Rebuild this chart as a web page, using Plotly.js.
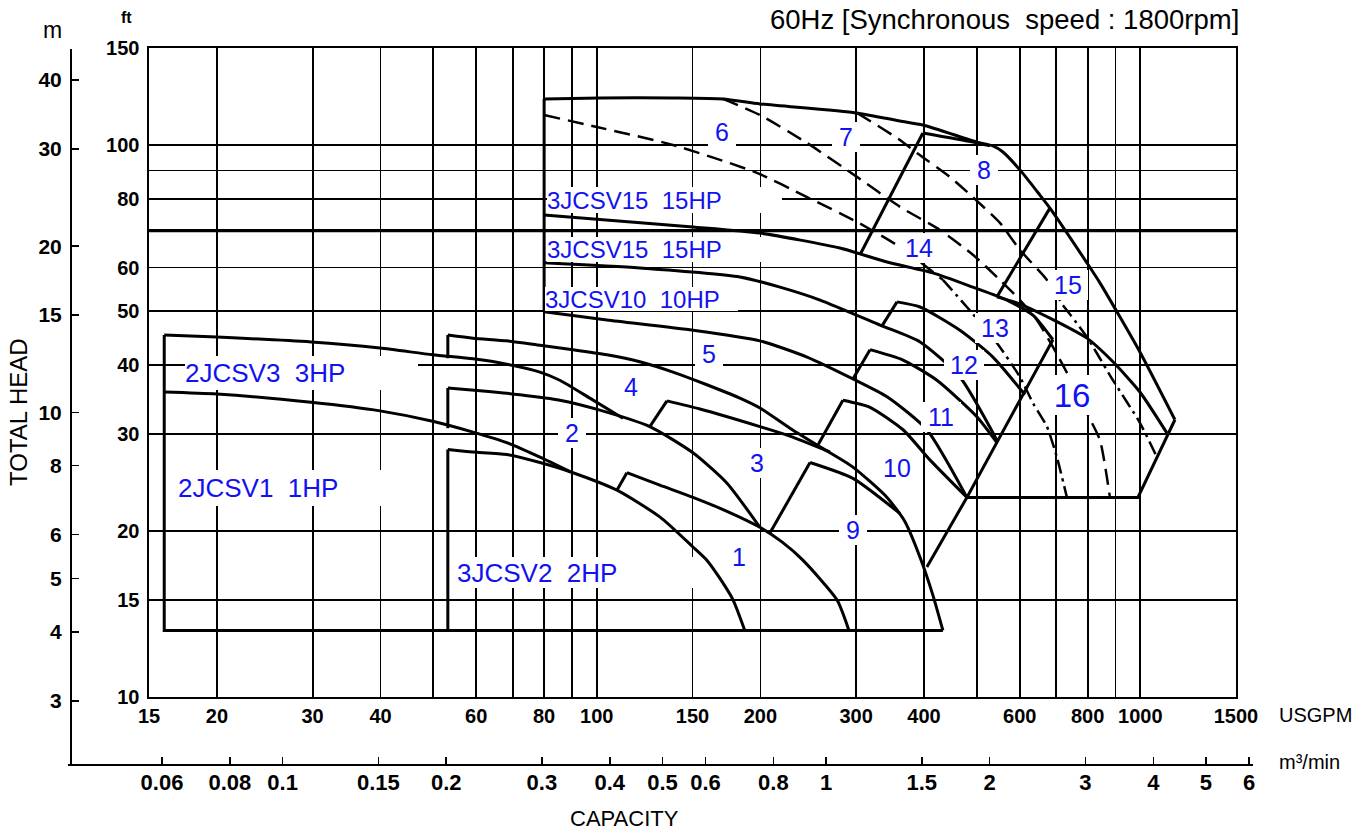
<!DOCTYPE html>
<html>
<head>
<meta charset="utf-8">
<script src="https://cdn.plot.ly/plotly-3.0.1.min.js"></script>
<style>
  html, body { margin: 0; padding: 0; background: #fff; }
  #chart { width: 1366px; height: 834px; }
</style>
</head>
<body>
<div id="chart"></div>
<script>
// ---------- performance data: capacity Q [US GPM], total head H [ft] ----------

// 2JCSV range box and curves
const q2jcsvBox = [16, 16, 187.2];
const h2jcsvBox = [45.3, 13.2, 13.2];
const q2jcsv3 = [16, 20, 29.8, 39.9, 49.9, 59.2, 68.3, 78.6, 85.5, 97.1, 111.7];
const h2jcsv3 = [45.3, 44.9, 44.0, 42.9, 41.7, 41.0, 40.1, 38.8, 37.5, 34.8, 32.0];
const q2jcsv1 = [16, 20, 29.8, 39.9, 49.9, 59.2, 68.3, 78.6, 89.3];
const h2jcsv1 = [35.7, 35.4, 34.2, 33.0, 31.6, 30.2, 28.9, 27.2, 25.6];

// 3JCSV2 range edges (null = pen up) and curves
const q3jcsvEdge = [53.2, 53.2, null, 53.2, 53.2, null, 53.2, 53.2, 433.3];
const h3jcsvEdge = [45.3, 41.1, null, 36.3, 30.7, null, 28.1, 13.2, 13.2];
const q3jcsvTop = [53.2, 59.2, 68.3, 78.6, 90.4, 104.4, 120.0, 138.1, 159.4, 183.3, 199.6, 226.6, 257.5, 296.0, 342.0, 368.8, 393.4, 415.3, 433.3];
const h3jcsvTop = [45.3, 44.7, 44.2, 43.4, 42.6, 41.7, 40.5, 38.8, 36.8, 34.8, 33.4, 30.7, 28.4, 26.1, 23.0, 20.8, 17.9, 15.3, 13.2];
const q3jcsvMid = [53.2, 61.0, 72.2, 85.5, 101.3, 125.2, 150.3, 173.6, 199.6];
const h3jcsvMid = [36.3, 35.9, 35.3, 34.5, 33.1, 30.9, 27.7, 24.4, 20.3];
const q3jcsvLow = [53.2, 59.2, 68.3, 78.6, 89.3, 108.9, 130.6, 150.3, 159.4, 168.5, 178.1, 187.2];
const h3jcsvLow = [28.1, 27.8, 27.5, 26.6, 25.6, 23.7, 21.2, 18.7, 17.7, 16.4, 15.0, 13.2];

// stepped curves: first segment is the minimum-flow step, the rest is the H-Q curve
const qStepA = [108.9, 113.6, 130.6, 150.3, 173.6, 199.6, 219.1, 239.4, 276.6, 291.0];
const hStepA = [23.7, 25.5, 24.2, 23.0, 21.7, 20.3, 19.1, 17.7, 15.0, 13.2];
const qStepB = [125.2, 134.6, 154.8, 199.6, 226.6, 268.5];
const hStepB = [30.9, 34.4, 33.25, 30.9, 29.7, 27.8];
const qStepC = [208.1, 246.8, 296.0, 361.3];
const hStepC = [19.8, 26.6, 24.9, 21.5];
const qStepD = [254.2, 283.7, 318.2, 366.0, 410.1, 479.7];
const hStepD = [28.4, 34.5, 33.5, 30.5, 26.9, 23.0];
const qStepE = [296.0, 318.2, 366.0, 422.4, 500.4, 544.7];
const hStepE = [37.7, 42.6, 40.8, 37.5, 32.2, 28.9];
const qStepF = [334.6, 356.8, 393.4, 465.7, 535.6, 613.4];
const hStepF = [47.0, 52.0, 50.9, 46.2, 41.3, 35.3];
const qStepG = [305.0, 398.1, 492.0, 528.9];
const hStepG = [63.3, 105.2, 101.3, 99.7];
const qStepH = [681.9, 544.7, 593.0, 681.9, 797.6, 890.6, 998.3, 1119];
const hStepH = [76.9, 53.1, 51.8, 48.6, 44.7, 40.5, 35.7, 30.1];

// 3JCSV10 / 3JCSV15 range
const q3jcsvMax = [80.0, 101.3, 138.1, 170.7, 199.6, 300, 361.3, 398.1, 500.4, 535.6, 558.8, 600.6, 653.6, 681.9, 797.6, 842.8, 998.3, 1158];
const h3jcsvMax = [121.3, 121.8, 121.8, 121.3, 118.8, 114.4, 110.6, 108.8, 101.3, 99.7, 97.2, 90.2, 81.2, 76.9, 61.2, 56.3, 42.2, 31.8];
const qHexEdge = [1158, 990, 479.7];
const hHexEdge = [31.8, 23.0, 23.0];
const q80Edge = [80, 80];
const h80Edge = [121.3, 49.9];
const qDiagonal = [404.9, 479.7, 690.6];
const hDiagonal = [17.2, 23.0, 44.4];
const q3jcsv10 = [80.0, 104.4, 150.3, 199.6, 243.7, 296.0, 342.0, 404.9, 479.7];
const h3jcsv10 = [49.9, 48.2, 46.2, 44.2, 41.3, 37.7, 35.0, 30.5, 23.0];
const q3jcsv15b = [80.0, 120.0, 183.3, 217.3, 257.5, 332.0, 393.4, 465.7, 544.7];
const h3jcsv15b = [61.2, 59.9, 57.7, 55.3, 52.4, 47.2, 44.0, 38.0, 29.2];
const q3jcsv15a = [80.0, 150.3, 199.6, 280.1, 342.0, 415.3, 492.0, 568.3, 634.5, 690.6];
const h3jcsv15a = [74.7, 71.1, 69.3, 65.1, 61.4, 58.7, 55.3, 52.4, 49.2, 44.4];

// dashed curves
const qDashA = [170.7, 199.6, 243.7, 301.1, 361.3, 427.8, 492.0, 551.7, 600.6, 645.3, 690.6, 732.8, 797.6, 842.8, 879.3];
const hDashA = [121.3, 113.4, 100.9, 87.6, 77.3, 70.2, 63.3, 57.0, 52.4, 48.2, 43.1, 38.7, 32.7, 29.2, 23.0];
const qDashB = [80.0, 100, 138.1, 197.1, 243.7, 301.1, 361.3, 404.9, 433.3, 479.7, 544.7, 600.6, 634.5, 673.3, 702.4, 732.8];
const hDashB = [113.4, 107.9, 100.1, 89.1, 80.5, 72.6, 65.4, 60.1, 57.0, 50.9, 43.8, 38.0, 34.1, 30.9, 27.2, 23.0];
const qDashC = [301.1, 361.3, 388.1, 446.4, 492.0, 551.7, 600.6, 673.3, 720.5, 797.6, 890.6, 998.3, 1073];
const hDashC = [114.4, 102.2, 96.8, 87.6, 80.5, 72.3, 64.6, 57.0, 51.3, 44.9, 37.5, 31.4, 27.2];
// index where the dashed B and C curves change to dash-dot
const dashDotFromB = 8;
const dashDotFromC = 8;

// axis ticks
const gpmTicks = [15, 20, 30, 40, 50, 60, 70, 80, 90, 100, 150, 200, 300, 400, 500, 600, 700, 800, 900, 1000, 1500];
const gpmLabels = ['15', '20', '30', '40', '', '60', '', '80', '', '100', '150', '200', '300', '400', '', '600', '', '800', '', '1000', '1500'];
const ftTicks = [10, 15, 20, 30, 40, 50, 60, 70, 80, 90, 100, 150];
const ftLabels = ['10', '15', '20', '30', '40', '50', '60', '', '80', '', '100', '150'];
const m3Ticks = [0.06, 0.08, 0.1, 0.15, 0.2, 0.3, 0.4, 0.5, 0.6, 0.8, 1, 1.5, 2, 3, 4, 5, 6];
const mTicks = [3, 4, 5, 6, 8, 10, 15, 20, 30, 40];

// labels
const modelNames = ['2JCSV3  3HP', '2JCSV1  1HP', '3JCSV2  2HP', '3JCSV10  10HP', '3JCSV15  15HP', '3JCSV15  15HP'];
const regionNumbers = ['1', '2', '3', '4', '5', '6', '7', '8', '9', '10', '11', '12', '13', '14', '15', '16'];

// ---------- page geometry (pixels) ----------
const W = 1366, H = 834;
const frame = { left: 149, right: 1236, top: 48, bottom: 697 };
const m3Axis = { left: 68, right: 1253, line: 764 };
const mAxis = { top: 49, line: 70 };
const GPM_PER_M3MIN = 264.172;
const FT_PER_M = 3.28084;

const lx0 = Math.log10(15), lx1 = Math.log10(1500);
const ly0 = Math.log10(10), ly1 = Math.log10(150);
const pxDecX = (frame.right - frame.left) / (lx1 - lx0);
const pxDecY = (frame.bottom - frame.top) / (ly1 - ly0);
const logQAt = p => lx0 + (p - frame.left) / pxDecX;
const logHAt = p => ly0 + (frame.bottom - p) / pxDecY;
const px = p => p / W;
const py = p => 1 - p / H;

// label placement (pixels): model boxes [left, top, right, bottom, fontSize]
const modelBoxes = [
  [185, 356, 418, 390, 26],
  [178, 470, 395, 506, 26],
  [457, 557, 695, 588, 26],
  [545, 287, 738, 311, 24],
  [547, 187, 782, 213, 24],
  [547, 237, 765, 262, 24]
];
// region number centres [x, y]
const numberPos = [
  [739, 557], [572, 433], [757, 463], [631, 387], [709, 354], [722, 132], [846, 137], [984, 170],
  [853, 530], [897, 468], [941, 417], [964, 365], [995, 328], [919, 248], [1068, 285], [1072, 395]
];

// ---------- traces ----------
const INK = '#000';
const traces = [];
function curve(q, h) {
  traces.push({ type: 'scatter', mode: 'lines', x: q, y: h, hoverinfo: 'skip', showlegend: false,
    line: { color: INK, width: 3, shape: 'spline', smoothing: 0.6 } });
}
function straight(q, h, w) {
  traces.push({ type: 'scatter', mode: 'lines', x: q, y: h, hoverinfo: 'skip', showlegend: false,
    connectgaps: false, line: { color: INK, width: w || 3, shape: 'linear' } });
}
function dashed(q, h, pattern) {
  traces.push({ type: 'scatter', mode: 'lines', x: q, y: h, hoverinfo: 'skip', showlegend: false,
    line: { color: INK, width: 2.5, shape: 'spline', smoothing: 0.6, dash: pattern || '16px,8px' } });
}
function stepped(q, h) {
  straight(q.slice(0, 2), h.slice(0, 2));
  curve(q.slice(1), h.slice(1));
}
const DASH_DOT = '14px,5px,3px,5px';

straight(q2jcsvBox, h2jcsvBox);
curve(q2jcsv3, h2jcsv3);
curve(q2jcsv1, h2jcsv1);
straight(q3jcsvEdge, h3jcsvEdge);
curve(q3jcsvTop, h3jcsvTop);
curve(q3jcsvMid, h3jcsvMid);
curve(q3jcsvLow, h3jcsvLow);
[[qStepA, hStepA], [qStepB, hStepB], [qStepC, hStepC], [qStepD, hStepD],
 [qStepE, hStepE], [qStepF, hStepF], [qStepG, hStepG], [qStepH, hStepH]].forEach(s => stepped(s[0], s[1]));
straight(q80Edge, h80Edge);
curve(q3jcsvMax, h3jcsvMax);
straight(qHexEdge, hHexEdge);
straight(qDiagonal, hDiagonal);
curve(q3jcsv10, h3jcsv10);
curve(q3jcsv15b, h3jcsv15b);
curve(q3jcsv15a, h3jcsv15a);
dashed(qDashA, hDashA);
dashed(qDashB.slice(0, dashDotFromB + 1), hDashB.slice(0, dashDotFromB + 1));
dashed(qDashB.slice(dashDotFromB), hDashB.slice(dashDotFromB), DASH_DOT);
dashed(qDashC.slice(0, dashDotFromC + 1), hDashC.slice(0, dashDotFromC + 1));
dashed(qDashC.slice(dashDotFromC), hDashC.slice(dashDotFromC), DASH_DOT);

// carrier for the metric axes (draws nothing)
traces.push({ type: 'scatter', mode: 'none', x: [m3Ticks[0]], y: [mTicks[0]], xaxis: 'x2', yaxis: 'y2',
  hoverinfo: 'skip', showlegend: false });

// ---------- layout ----------
const NUM_FAMILY = '"Liberation Sans", Arial, sans-serif';
const TEXT_FAMILY = '"Liberation Sans", Arial, Helvetica, sans-serif';
const BLUE = 'rgb(18,18,240)';

const annotations = [];
modelNames.forEach((t, i) => {
  const b = modelBoxes[i];
  annotations.push({ xref: 'paper', yref: 'paper', x: px(b[0]), y: py((b[1] + b[3]) / 2),
    xanchor: 'left', yanchor: 'middle', width: b[2] - b[0], height: b[3] - b[1], align: 'left',
    text: t, showarrow: false, bgcolor: '#fff', borderpad: 0, borderwidth: 0,
    font: { family: TEXT_FAMILY, size: b[4], color: BLUE } });
});
regionNumbers.forEach((t, i) => {
  const c = numberPos[i];
  const big = t === '16';
  annotations.push({ xref: 'paper', yref: 'paper', x: px(c[0]), y: py(c[1]),
    xanchor: 'center', yanchor: 'middle', text: t, showarrow: false, bgcolor: '#fff',
    width: big ? 46 : (t.length > 1 ? 40 : 28), height: big ? 40 : 30, borderpad: 0, borderwidth: 0,
    font: { family: TEXT_FAMILY, size: big ? 33 : 25, color: BLUE } });
});
annotations.push(
  { xref: 'paper', yref: 'paper', x: px(1241), y: py(20), xanchor: 'right', yanchor: 'middle', showarrow: false,
    text: '60Hz [Synchronous  speed : 1800rpm]', font: { family: TEXT_FAMILY, size: 27.5, color: INK } },
  { xref: 'paper', yref: 'paper', x: px(126), y: py(18), xanchor: 'center', yanchor: 'middle', showarrow: false,
    text: 'ft', font: { family: TEXT_FAMILY, size: 16, color: INK, weight: 'bold' } },
  { xref: 'paper', yref: 'paper', x: px(52), y: py(30), xanchor: 'center', yanchor: 'middle', showarrow: false,
    text: 'm', font: { family: TEXT_FAMILY, size: 23, color: INK } },
  { xref: 'paper', yref: 'paper', x: px(1277), y: py(715), xanchor: 'left', yanchor: 'middle', showarrow: false,
    text: 'USGPM', font: { family: TEXT_FAMILY, size: 20, color: INK } },
  { xref: 'paper', yref: 'paper', x: px(1277), y: py(762), xanchor: 'left', yanchor: 'middle', showarrow: false,
    text: 'm³/min', font: { family: TEXT_FAMILY, size: 20, color: INK } },
  { xref: 'paper', yref: 'paper', x: px(18), y: py(412), xanchor: 'center', yanchor: 'middle', showarrow: false,
    textangle: -90, text: 'TOTAL HEAD', font: { family: TEXT_FAMILY, size: 24, color: INK } },
  { xref: 'paper', yref: 'paper', x: px(624), y: py(818), xanchor: 'center', yanchor: 'middle', showarrow: false,
    text: 'CAPACITY', font: { family: TEXT_FAMILY, size: 22, color: INK } }
);

const layout = {
  width: W, height: H,
  margin: { l: 0, r: 0, t: 0, b: 0, pad: 0 },
  paper_bgcolor: '#fff', plot_bgcolor: 'rgba(0,0,0,0)',
  showlegend: false, hovermode: false,
  xaxis: {
    type: 'log', domain: [px(frame.left), px(frame.right)], range: [lx0, lx1], anchor: 'y',
    tickmode: 'array', tickvals: gpmTicks, ticktext: gpmLabels, ticks: '', ticklabelstandoff: 0,
    showgrid: true, gridcolor: INK, gridwidth: 1.8, zeroline: false,
    showline: true, mirror: true, linecolor: INK, linewidth: 1.6,
    tickfont: { family: NUM_FAMILY, size: 20, color: INK, weight: 'bold' }
  },
  yaxis: {
    type: 'log', domain: [py(frame.bottom), py(frame.top)], range: [ly0, ly1], anchor: 'x',
    tickmode: 'array', tickvals: ftTicks, ticktext: ftLabels, ticks: '', ticklabelstandoff: 4,
    showgrid: true, gridcolor: INK, gridwidth: 1.8, zeroline: false,
    showline: true, mirror: true, linecolor: INK, linewidth: 1.6,
    tickfont: { family: NUM_FAMILY, size: 20, color: INK, weight: 'bold' }
  },
  xaxis2: {
    type: 'log', anchor: 'free', position: py(m3Axis.line), side: 'bottom',
    domain: [px(m3Axis.left), px(m3Axis.right)],
    range: [logQAt(m3Axis.left) - Math.log10(GPM_PER_M3MIN), logQAt(m3Axis.right) - Math.log10(GPM_PER_M3MIN)],
    tickmode: 'array', tickvals: m3Ticks, ticktext: m3Ticks.map(String),
    ticks: 'inside', ticklen: 7, tickwidth: 1.5, tickcolor: INK, ticklabelstandoff: -2,
    showgrid: false, zeroline: false, showline: true, linecolor: INK, linewidth: 1.8,
    tickfont: { family: NUM_FAMILY, size: 22, color: INK, weight: 'bold' }
  },
  yaxis2: {
    type: 'log', anchor: 'free', position: px(mAxis.line), side: 'left',
    domain: [py(m3Axis.line), py(mAxis.top)],
    range: [logHAt(m3Axis.line) - Math.log10(FT_PER_M), logHAt(mAxis.top) - Math.log10(FT_PER_M)],
    tickmode: 'array', tickvals: mTicks, ticktext: mTicks.map(String),
    ticks: 'inside', ticklen: 7, tickwidth: 1.5, tickcolor: INK, ticklabelstandoff: 4,
    showgrid: false, zeroline: false, showline: true, linecolor: INK, linewidth: 1.8,
    tickfont: { family: NUM_FAMILY, size: 21, color: INK, weight: 'bold' }
  },
  shapes: [
    // heavy 70 ft rule
    { type: 'line', xref: 'x domain', x0: 0, x1: 1, yref: 'y', y0: 70, y1: 70, layer: 'below',
      line: { color: INK, width: 3.4 } }
  ],
  annotations: annotations
};

Plotly.newPlot('chart', traces, layout, { displayModeBar: false, staticPlot: true });
</script>
</body>
</html>
